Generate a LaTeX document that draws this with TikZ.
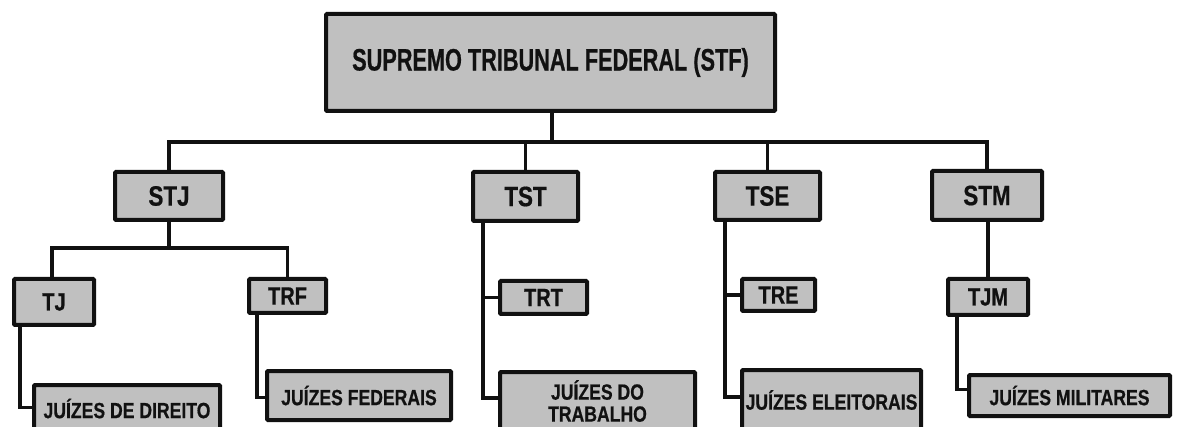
\documentclass[tikz,border=0pt]{standalone}
\usepackage{fontspec}
\usetikzlibrary{calc}
\newfontfamily\nbfont[FakeStretch=0.80,FakeBold=0.6]{Liberation Sans}
\newfontfamily\nbwide[FakeStretch=0.70,FakeBold=0.6]{Liberation Sans}
\definecolor{boxgray}{HTML}{C0C0C0}
\definecolor{ink}{HTML}{111111}
\tikzset{
  box/.style={draw=ink, fill=boxgray, line width=4pt, rectangle, rounded corners=1pt,
    inner sep=0pt, outer sep=0pt, text=ink, align=center},
  topbox/.style={box, font=\nbwide\bfseries\fontsize{31}{33}\selectfont},
  lvlone/.style={box, font=\nbfont\bfseries\fontsize{28}{30}\selectfont},
  lvltwo/.style={box, font=\nbfont\bfseries\fontsize{25}{27}\selectfont},
  lvlthree/.style={box, font=\nbfont\bfseries\fontsize{22}{22}\selectfont},
  link/.style={draw=ink, line width=3.6pt},
}
\begin{document}
\begin{tikzpicture}[x=1pt,y=-1pt]
\useasboundingbox[fill=white] (0,0) rectangle (1177,427);
% boxes
\node[topbox, minimum width=449pt, minimum height=97pt] (stf) at (550.5,62.5) {SUPREMO TRIBUNAL FEDERAL (STF)};
\node[lvlone, minimum width=108pt, minimum height=48pt] (stj) at (169,196) {STJ};
\node[lvlone, minimum width=105pt, minimum height=49pt] (tst) at (525.5,196.5) {TST};
\node[lvlone, minimum width=105pt, minimum height=48pt] (tse) at (767.5,196) {TSE};
\node[lvlone, minimum width=110pt, minimum height=49pt] (stm) at (987,195.5) {STM};
\node[lvltwo, minimum width=80pt, minimum height=46pt] (tj) at (54,302) {TJ};
\node[lvltwo, minimum width=77pt, minimum height=34pt] (trf) at (287.5,296) {TRF};
\node[lvltwo, minimum width=87pt, minimum height=33pt] (trt) at (543.5,297.5) {TRT};
\node[lvltwo, minimum width=73pt, minimum height=32pt] (tre) at (778.5,295) {TRE};
\node[lvltwo, minimum width=80pt, minimum height=36pt] (tjm) at (988,297) {TJM};
\node[lvlthree, minimum width=186pt, minimum height=47pt] (jdd) at (127,408.5) {JUÍZES DE DIREITO};
\node[lvlthree, minimum width=184pt, minimum height=49pt] (jf) at (359,395.5) {JUÍZES FEDERAIS};
\node[lvlthree, minimum width=195pt, minimum height=58pt] (jdt) at (597.5,401) {JUÍZES DO\\TRABALHO};
\node[lvlthree, minimum width=179pt, minimum height=60pt] (je) at (831.5,400) {JUÍZES ELEITORAIS};
\node[lvlthree, minimum width=201pt, minimum height=41pt] (jm) at (1069.5,395.5) {JUÍZES MILITARES};
% main bus
\coordinate (bus) at (552,142);
\draw[link] (stf.south -| bus) -- (bus);
\draw[link] (stj.north) |- (bus) -| (stm.north);
\draw[link] (bus -| tst.north) -- (tst.north);
\draw[link] (bus -| tse.north) -- (tse.north);
% STJ branch
\coordinate (subbus) at (169,248);
\draw[link] (stj.south) -- (subbus);
\draw[link] (tj.north -| 52,0) |- (subbus) -| (trf.north);
\coordinate (tjx) at ($(tj.south west)+(6,0)$);
\draw[link] (tjx) |- ([yshift=1pt]jdd.west);
\coordinate (trfx) at ($(trf.south west)+(8,0)$);
\draw[link] (trfx) |- ([yshift=-2pt]jf.west);
% TST branch
\coordinate (tstx) at ($(tst.south west)+(10,0)$);
\draw[link] (tstx) |- ([yshift=3pt]jdt.west);
\draw[link] (trt.west) -- (trt.west -| tstx);
% TSE branch
\coordinate (tsex) at ($(tse.south west)+(10,0)$);
\draw[link] (tsex) |- ([yshift=3pt]je.west);
\draw[link] (tre.west) -- (tre.west -| tsex);
% STM branch
\draw[link] (stm.south -| tjm.north) -- (tjm.north);
\coordinate (tjmx) at ($(tjm.south west)+(9,0)$);
\draw[link] (tjmx) |- ([yshift=6pt]jm.west);
\end{tikzpicture}
\end{document}
